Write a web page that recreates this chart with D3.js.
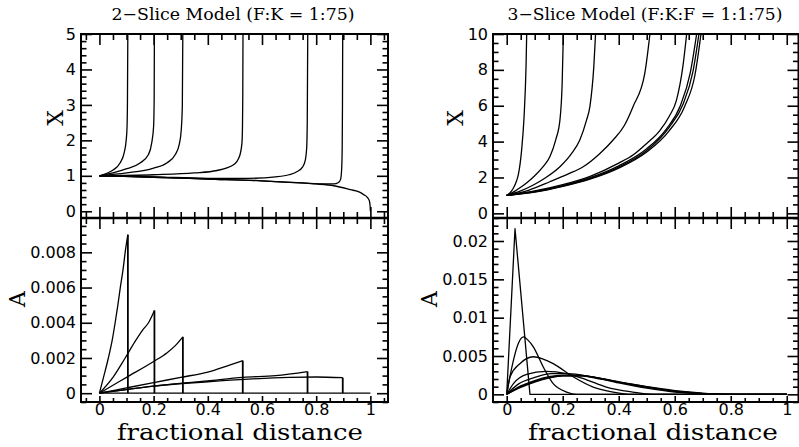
<!DOCTYPE html>
<html><head><meta charset="utf-8">
<script src="https://cdn.jsdelivr.net/npm/d3@7"></script>
<style>body{margin:0;background:#fff} svg{display:block}</style>
</head><body>
<svg id="c" width="799" height="447"></svg>
<script>
// ---------- data ----------
const xTickValues = [0, 0.2, 0.4, 0.6, 0.8, 1];
const xTickLabels = ["0", "0.2", "0.4", "0.6", "0.8", "1"];

const twoSliceXTicks = [0, 1, 2, 3, 4, 5];
const twoSliceATicks = [0, 0.002, 0.004, 0.006, 0.008];
const twoSliceALabels = ["0", "0.002", "0.004", "0.006", "0.008"];
const threeSliceXTicks = [0, 2, 4, 6, 8, 10];
const threeSliceATicks = [0, 0.005, 0.01, 0.015, 0.02];
const threeSliceALabels = ["0", "0.005", "0.01", "0.015", "0.02"];

// 2-slice model, X vs fractional distance
const twoSliceX = [
  [[0,1],[0.03,1.08],[0.052,1.17],[0.076,1.36],[0.091,1.64],[0.099,2.02],[0.102,2.4],[0.1035,3.15],[0.105,5.3]],
  [[0,1],[0.05,1.08],[0.101,1.2],[0.15,1.36],[0.181,1.6],[0.193,1.93],[0.2,2.4],[0.202,3.15],[0.203,5.3]],
  [[0,1],[0.1,1.08],[0.2,1.22],[0.25,1.37],[0.28,1.6],[0.295,1.9],[0.302,2.3],[0.306,3],[0.308,5.3]],
  [[0,1],[0.2,1.03],[0.35,1.08],[0.434,1.15],[0.495,1.31],[0.517,1.55],[0.526,1.93],[0.528,2.4],[0.529,3.2],[0.53,5.3]],
  [[0,1],[0.2,0.97],[0.4,0.93],[0.55,0.93],[0.65,0.97],[0.7,1.03],[0.73,1.12],[0.75,1.25],[0.76,1.45],[0.765,1.8],[0.767,2.5],[0.769,5.3]],
  [[0,1],[0.2,0.96],[0.4,0.91],[0.6,0.86],[0.75,0.8],[0.83,0.77],[0.865,0.77],[0.882,0.81],[0.89,0.9],[0.894,1.2],[0.896,1.8],[0.897,3],[0.898,5.3]],
  [[0,1],[0.2,0.96],[0.4,0.91],[0.6,0.86],[0.74,0.8],[0.8,0.77],[0.865,0.72],[0.926,0.61],[0.96,0.54],[0.975,0.47],[0.99,0.38],[0.996,0.3],[0.999,0.15],[1.0,0]]
];

// 2-slice model, A vs fractional distance (each ends with a drop to zero)
const twoSliceA = [
  [[0,0],[0.015,0.0009],[0.033,0.002],[0.047,0.003],[0.058,0.004],[0.068,0.005],[0.077,0.006],[0.087,0.007],[0.095,0.008],[0.105,0.009]],
  [[0,0],[0.05,0.0009],[0.095,0.002],[0.13,0.0029],[0.16,0.0036],[0.181,0.004],[0.203,0.0047]],
  [[0,0],[0.1,0.0009],[0.2,0.0018],[0.25,0.0023],[0.28,0.0027],[0.308,0.0032]],
  [[0,0],[0.1,0.0003],[0.2,0.0006],[0.3,0.0009],[0.4,0.0012],[0.48,0.0016],[0.529,0.00185]],
  [[0,0],[0.2,0.0004],[0.4,0.0007],[0.53,0.0009],[0.65,0.001],[0.768,0.00123]],
  [[0,0],[0.2,0.0004],[0.4,0.00065],[0.55,0.0008],[0.7,0.0009],[0.8,0.00092],[0.898,0.00088]],
  [[0,0],[1,0]]
];

// 3-slice model, X vs fractional distance
const threeSliceX = [
  [[0,1],[0.012,1.15],[0.0235,1.4],[0.035,1.8],[0.042,2.2],[0.053,3.5],[0.062,5.4],[0.069,8.2],[0.072,10.5]],
  [[0,1],[0.025,1.2],[0.05,1.45],[0.075,1.75],[0.1,2.1],[0.13,2.6],[0.154,3.16],[0.175,4.1],[0.19,5.2],[0.198,7.25],[0.203,10.5]],
  [[0,1],[0.05,1.25],[0.095,1.58],[0.14,2.0],[0.19,2.6],[0.23,3.3],[0.261,4.09],[0.285,5.2],[0.297,5.95],[0.311,8.18],[0.319,10.5]],
  [[0,1],[0.08,1.3],[0.154,1.76],[0.22,2.2],[0.273,2.6],[0.33,3.3],[0.38,4.09],[0.42,4.9],[0.451,5.95],[0.493,7.8],[0.515,10.5]],
  [[0,1],[0.1,1.25],[0.2,1.6],[0.3,2.08],[0.4,2.8],[0.451,3.25],[0.5,3.9],[0.546,4.6],[0.58,5.4],[0.606,6.3],[0.629,8.18],[0.646,10.5]],
  [[0,1],[0.1,1.22],[0.2,1.55],[0.3,2.0],[0.4,2.65],[0.5,3.6],[0.57,4.7],[0.62,6.0],[0.655,7.8],[0.683,10.5]],
  [[0,1],[0.1,1.2],[0.2,1.52],[0.3,1.95],[0.4,2.58],[0.5,3.5],[0.58,4.8],[0.63,6.1],[0.665,7.9],[0.691,10.5]],
  [[0,1],[0.1,1.18],[0.2,1.5],[0.3,1.92],[0.4,2.52],[0.5,3.42],[0.58,4.6],[0.635,5.95],[0.672,7.7],[0.698,10.5]]
];

// 3-slice model, A vs fractional distance
const threeSliceSpike = [[0,0],[0.0296,0.0216],[0.083,0],[1,0]];
const threeSliceA = [
  [[0,0],[0.012,0.0024],[0.0237,0.0044],[0.041,0.0066],[0.06,0.0075],[0.075,0.0071],[0.095,0.0062],[0.13,0.0036],[0.166,0.0014],[0.214,0.0003],[0.25,0],[1,0]],
  [[0,0],[0.012,0.0023],[0.047,0.004],[0.095,0.0049],[0.13,0.0046],[0.166,0.004],[0.237,0.0023],[0.309,0.00095],[0.38,0.0003],[0.45,0],[1,0]],
  [[0,0],[0.024,0.0014],[0.071,0.0026],[0.14,0.003],[0.214,0.0027],[0.285,0.0019],[0.356,0.00095],[0.45,0.0003],[0.52,0],[1,0]],
  [[0,0],[0.04,0.0013],[0.1,0.0022],[0.16,0.0027],[0.22,0.0027],[0.3,0.0023],[0.4,0.0015],[0.5,0.0008],[0.6,0.0003],[0.7,0.0001],[0.8,0],[1,0]],
  [[0,0],[0.05,0.0011],[0.1,0.0018],[0.15,0.0023],[0.2,0.0025],[0.25,0.0025],[0.3,0.0023],[0.4,0.0016],[0.5,0.0009],[0.6,0.0004],[0.7,0.0001],[0.8,0],[1,0]],
  [[0,0],[0.05,0.001],[0.1,0.0017],[0.15,0.0022],[0.2,0.0024],[0.26,0.0024],[0.32,0.0021],[0.4,0.0016],[0.5,0.001],[0.6,0.0004],[0.7,0.0001],[0.8,0],[1,0]],
  [[0,0],[0.05,0.0009],[0.1,0.0016],[0.15,0.0021],[0.2,0.0024],[0.27,0.0024],[0.33,0.0021],[0.42,0.0015],[0.52,0.0009],[0.62,0.0004],[0.72,0.0001],[0.82,0],[1,0]]
];

const titles = ["2\u2212Slice Model (F:K = 1:75)", "3\u2212Slice Model (F:K:F = 1:1:75)"];
const xAxisTitle = "fractional distance";
const yTitleTop = "X";
const yTitleBottom = "A";

// ---------- drawing ----------
const svg = d3.select("#c");
svg.append("rect").attr("width", 799).attr("height", 447).attr("fill", "#fff");

const TICKFONT = "'DejaVu Sans', sans-serif";
const SERIF = "'DejaVu Serif', serif";

function minorRange(step, lo, hi, majors) {
  const out = [];
  const n0 = Math.ceil(lo / step - 1e-9), n1 = Math.floor(hi / step + 1e-9);
  for (let i = n0; i <= n1; i++) {
    const v = +(i * step).toFixed(6);
    if (!majors.some(m => Math.abs(m - v) < 1e-9)) out.push(v);
  }
  return out;
}

let clipId = 0;
function panel(cfg) {
  const { x0, x1, y0, y1, xDom, yDom, yMajor, yLabels, yMinorStep, bottomLabels } = cfg;
  const x = d3.scaleLinear().domain(xDom).range([x0, x1]);
  const y = d3.scaleLinear().domain(yDom).range([y1, y0]);
  const g = svg.append("g");
  const id = "clip" + (clipId++);
  svg.append("clipPath").attr("id", id).append("rect")
    .attr("x", x0).attr("y", y0).attr("width", x1 - x0).attr("height", y1 - y0);

  const xMinor = minorRange(0.05, xDom[0], xDom[1], xTickValues);
  const yMinor = minorRange(yMinorStep, yDom[0], yDom[1], yMajor);

  function axisG(axis, tx, ty) {
    const a = g.append("g").attr("transform", `translate(${tx},${ty})`).call(axis);
    a.select(".domain").remove();
    a.selectAll("line").attr("stroke", "#000").attr("stroke-width", 1.6);
    a.selectAll("text").attr("fill", "#000").style("font-family", TICKFONT).style("font-size", "16px");
    return a;
  }
  // top edge
  axisG(d3.axisTop(x).tickValues(xTickValues).tickSize(-11).tickFormat(""), 0, y0);
  axisG(d3.axisTop(x).tickValues(xMinor).tickSize(-6).tickFormat(""), 0, y0);
  // bottom edge
  if (bottomLabels) {
    axisG(d3.axisBottom(x).tickValues(xTickValues).tickSize(-6).tickPadding(2)
      .tickFormat((d, i) => xTickLabels[i]), 0, y1);
    axisG(d3.axisBottom(x).tickValues(xMinor).tickSize(-4).tickFormat(""), 0, y1);
  } else {
    axisG(d3.axisBottom(x).tickValues(xTickValues).tickSize(-11).tickFormat(""), 0, y1);
    axisG(d3.axisBottom(x).tickValues(xMinor).tickSize(-6).tickFormat(""), 0, y1);
  }
  // left edge
  axisG(d3.axisLeft(y).tickValues(yMajor).tickSize(-11).tickPadding(5)
    .tickFormat((d, i) => yLabels[i]), x0, 0);
  axisG(d3.axisLeft(y).tickValues(yMinor).tickSize(-5.5).tickFormat(""), x0, 0);
  // right edge
  axisG(d3.axisRight(y).tickValues(yMajor).tickSize(-11).tickFormat(""), x1, 0);
  axisG(d3.axisRight(y).tickValues(yMinor).tickSize(-5.5).tickFormat(""), x1, 0);

  // frame
  g.append("rect").attr("x", x0).attr("y", y0).attr("width", x1 - x0).attr("height", y1 - y0)
    .attr("fill", "none").attr("stroke", "#000").attr("stroke-width", 2);

  const lines = g.append("g").attr("clip-path", `url(#${id})`);
  return { x, y, lines };
}

function drawSeries(p, series, curve) {
  const line = d3.line().x(d => p.x(d[0])).y(d => p.y(d[1])).curve(curve);
  p.lines.selectAll(null).data(series).enter().append("path")
    .attr("d", line).attr("fill", "none").attr("stroke", "#000")
    .attr("stroke-width", 1.3).attr("stroke-linejoin", "round");
}

const LX0 = 81, LX1 = 388, RX0 = 493, RX1 = 798.5;
const TY0 = 34, MID = 218, BY1 = 402;
const leftXDom = [-0.068, 1.065];
const rightXDom = [-0.049, 1.042];

const pTL = panel({ x0: LX0, x1: LX1, y0: TY0, y1: MID, xDom: leftXDom, yDom: [-0.19, 5],
  yMajor: twoSliceXTicks, yLabels: twoSliceXTicks.map(String), yMinorStep: 0.2, bottomLabels: false });
const pBL = panel({ x0: LX0, x1: LX1, y0: MID, y1: BY1, xDom: leftXDom, yDom: [-0.0005, 0.00995],
  yMajor: twoSliceATicks, yLabels: twoSliceALabels, yMinorStep: 0.0005, bottomLabels: true });
const pTR = panel({ x0: RX0, x1: RX1, y0: TY0, y1: MID, xDom: rightXDom, yDom: [-0.26, 10],
  yMajor: threeSliceXTicks, yLabels: threeSliceXTicks.map(String), yMinorStep: 0.5, bottomLabels: false });
const pBR = panel({ x0: RX0, x1: RX1, y0: MID, y1: BY1, xDom: rightXDom, yDom: [-0.001, 0.023],
  yMajor: threeSliceATicks, yLabels: threeSliceALabels, yMinorStep: 0.001, bottomLabels: true });

// thick shared divider
[[LX0, LX1], [RX0, RX1]].forEach(([a, b]) => {
  svg.append("line").attr("x1", a).attr("x2", b).attr("y1", MID).attr("y2", MID)
    .attr("stroke", "#000").attr("stroke-width", 2.6);
});

drawSeries(pTL, twoSliceX, d3.curveMonotoneX);
drawSeries(pBL, twoSliceA, d3.curveMonotoneX);
// vertical drops at the end of each A ramp
pBL.lines.selectAll(null).data(twoSliceA.filter(s => s[s.length - 1][1] > 0)).enter().append("line")
  .attr("x1", s => pBL.x(s[s.length - 1][0])).attr("x2", s => pBL.x(s[s.length - 1][0]))
  .attr("y1", s => pBL.y(s[s.length - 1][1])).attr("y2", pBL.y(0))
  .attr("stroke", "#000").attr("stroke-width", 1.8);

drawSeries(pTR, threeSliceX, d3.curveMonotoneX);
drawSeries(pBR, [threeSliceSpike], d3.curveLinear);
drawSeries(pBR, threeSliceA, d3.curveMonotoneX);

// titles
[[titles[0], 233, 243], [titles[1], 645, 275]].forEach(([t, cx, w]) => {
  svg.append("text").attr("x", cx).attr("y", 20).attr("text-anchor", "middle")
    .attr("textLength", w).attr("lengthAdjust", "spacingAndGlyphs")
    .style("font-family", SERIF).style("font-size", "16.5px").text(t);
});
// x axis titles
[[240, 246], [653, 250]].forEach(([cx, w]) => {
  svg.append("text").attr("x", cx).attr("y", 440).attr("text-anchor", "middle")
    .attr("textLength", w).attr("lengthAdjust", "spacingAndGlyphs")
    .style("font-family", SERIF).style("font-size", "22px").text(xAxisTitle);
});
// y axis titles (rotated)
[[63, 118, yTitleTop], [463, 118, yTitleTop], [25, 299, yTitleBottom], [437, 299, yTitleBottom]].forEach(([bx, cy, t]) => {
  svg.append("text").attr("transform", `translate(${bx},${cy}) rotate(-90)`)
    .attr("text-anchor", "middle").style("font-family", SERIF).style("font-size", "22px").text(t);
});
</script>
</body></html>
